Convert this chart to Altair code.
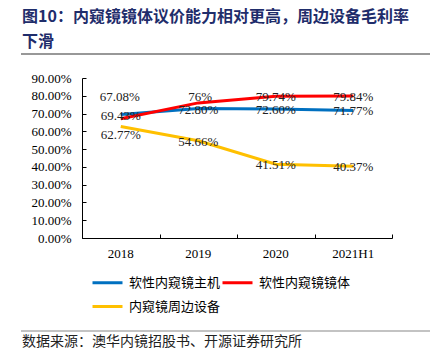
import altair as alt
import pandas as pd

years = ["2018", "2019", "2020", "2021H1"]
series = ["软性内窥镜主机", "软性内窥镜镜体", "内窥镜周边设备"]
host = [69.43, 72.80, 72.60, 71.77]
scope = [67.08, 76.00, 79.74, 79.84]
periph = [62.77, 54.66, 41.51, 40.37]
host_labels = ["69.43%", "72.80%", "72.60%", "71.77%"]
scope_labels = ["67.08%", "76%", "79.74%", "79.84%"]
periph_labels = ["62.77%", "54.66%", "41.51%", "40.37%"]
colors = ["#0070C0", "#FF0000", "#FFC000"]
y_ticks = [0, 10, 20, 30, 40, 50, 60, 70, 80, 90]
title_line1 = "图10：内窥镜镜体议价能力相对更高，周边设备毛利率"
title_line2 = "下滑"
source_text = "数据来源：澳华内镜招股书、开源证券研究所"

rows = []
for name, vals, labs in zip(series, [host, scope, periph], [host_labels, scope_labels, periph_labels]):
    for y, v, l in zip(years, vals, labs):
        rows.append({"year": y, "series": name, "value": v, "label": l})
df = pd.DataFrame(rows)

W, H = 310, 160
SERIF = "Liberation Serif"
CJK = "Noto Sans CJK SC"

base = alt.Chart(df)

xscale = alt.Scale(type="band", paddingInner=0, paddingOuter=0)
yscale = alt.Scale(domain=[0, 90], nice=False)

lines = base.mark_line(strokeWidth=3).encode(
    x=alt.X("year:N", sort=years, scale=xscale,
            axis=alt.Axis(title=None, ticks=False, tickSize=0, labelPadding=9,
                          domainColor="#000", domainWidth=1, labelFont=SERIF,
                          labelFontSize=13, labelColor="#000", labelAngle=0, grid=False)),
    y=alt.Y("value:Q", scale=yscale,
            axis=alt.Axis(title=None, values=y_ticks,
                          labelExpr="format(datum.value/100, '.2%')",
                          ticks=False, tickSize=0, labelPadding=11, grid=False,
                          domainColor="#000", domainWidth=1, labelFont=SERIF,
                          labelFontSize=13, labelColor="#000")),
    color=alt.Color("series:N", sort=series,
                    scale=alt.Scale(domain=series, range=colors),
                    legend=alt.Legend(title=None, orient="none", legendX=9, legendY=188,
                                      direction="horizontal", columns=2,
                                      symbolType="stroke", symbolSize=900,
                                      symbolStrokeWidth=3, labelFont=CJK,
                                      labelFontSize=13, labelColor="#000",
                                      labelOffset=5, columnPadding=-41, rowPadding=0)),
)

tick_axes = base.mark_line(opacity=0).encode(
    x=alt.X("year:N", sort=years,
            axis=alt.Axis(orient="top", offset=-H, labels=False, domain=False,
                          ticks=True, tickSize=4, tickBand="extent", tickColor="#000",
                          title=None, grid=False)),
    y=alt.Y("value:Q",
            axis=alt.Axis(orient="right", offset=-W, labels=False, domain=False,
                          ticks=True, tickSize=4, tickColor="#000", values=y_ticks,
                          title=None, grid=False)),
    detail="series:N",
)


def labels(expr, dy, dx=0):
    return base.mark_text(dy=dy, dx=dx, font=SERIF, fontSize=13, color="#222").encode(
        x=alt.X("year:N", sort=years, axis=None),
        y=alt.Y("value:Q", axis=None),
        text="label:N",
    ).transform_filter(expr)


c1 = "datum.series=='软性内窥镜镜体' && datum.year=='2018'"
c2 = "datum.series=='软性内窥镜镜体' && datum.year=='2019'"
c3 = "datum.series=='内窥镜周边设备' && datum.year=='2018'"
lab1 = labels(c1, -22, -1)
lab2 = labels(c2, -6, 2)
lab3 = labels(c3, 9)
lab4 = labels(f"!({c1}) && !({c2}) && !({c3})", 1)

one = alt.Data(values=[{}])
top_rule = alt.Chart(one).mark_rule(color="#333", strokeWidth=1.2).encode(
    x=alt.value(-61), x2=alt.value(350), y=alt.value(-24))
foot_rule = alt.Chart(one).mark_rule(color="#888", strokeWidth=1.2).encode(
    x=alt.value(-61), x2=alt.value(350), y=alt.value(253))
t1 = alt.Chart(one).mark_text(text=title_line1, align="left", baseline="middle",
                              font=CJK, fontSize=16, fontWeight="bold",
                              color="#1F2D6B").encode(x=alt.value(-60), y=alt.value(-61))
t2 = alt.Chart(one).mark_text(text=title_line2, align="left", baseline="middle",
                              font=CJK, fontSize=16, fontWeight="bold",
                              color="#1F2D6B").encode(x=alt.value(-60), y=alt.value(-36))
src = alt.Chart(one).mark_text(text=source_text, align="left", baseline="middle",
                               font=CJK, fontSize=14, color="#222").encode(
    x=alt.value(-60), y=alt.value(264))

chart = alt.layer(
    lines, tick_axes, lab1, lab2, lab3, lab4, top_rule, foot_rule, t1, t2, src
).resolve_axis(x="independent", y="independent").properties(
    width=W, height=H,
    padding={"left": 74, "top": 70, "right": 38, "bottom": 112},
    autosize=alt.AutoSizeParams(type="none"),
    background="white",
).configure_view(stroke=None)

chart.save("out.html", embed_options={"renderer": "svg", "actions": False})
